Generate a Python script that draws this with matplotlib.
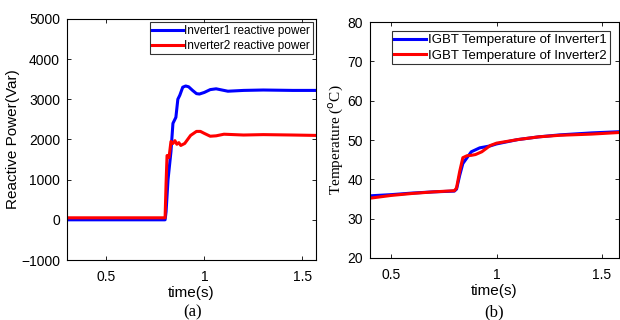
import numpy as np
import matplotlib
matplotlib.use("Agg")
import matplotlib.pyplot as plt

plt.rcParams['font.family'] = ['Liberation Sans', 'DejaVu Sans']

# (a) potencia reactiva
t_q1 = [0.30, 0.80, 0.805, 0.815, 0.83, 0.84, 0.855, 0.865, 0.875, 0.89, 0.905, 0.92,
        0.94, 0.96, 0.975, 1.00, 1.03, 1.06, 1.09, 1.12, 1.20, 1.30, 1.45, 1.57]
q1 = [0, 0, 200, 1000, 1700, 2400, 2550, 3000, 3100, 3300, 3330, 3310,
      3220, 3140, 3130, 3170, 3240, 3260, 3230, 3200, 3220, 3230, 3220, 3220]
t_q2 = [0.30, 0.80, 0.805, 0.81, 0.82, 0.83, 0.84, 0.85, 0.86, 0.87, 0.88, 0.90,
        0.93, 0.96, 0.98, 1.00, 1.03, 1.06, 1.10, 1.20, 1.30, 1.45, 1.57]
q2 = [50, 50, 900, 1600, 1550, 1950, 1900, 1970, 1880, 1920, 1850, 1900,
      2100, 2200, 2200, 2150, 2080, 2090, 2130, 2110, 2120, 2110, 2100]

# (b) temperatura IGBT
t_T1 = [0.40, 0.50, 0.60, 0.70, 0.80, 0.81, 0.825, 0.84, 0.86, 0.88, 0.92, 0.97,
        1.00, 1.10, 1.20, 1.30, 1.45, 1.58]
T1 = [35.8, 36.1, 36.5, 36.8, 37.0, 37.5, 41.0, 44.0, 45.5, 47.0, 48.0, 48.5,
      49.0, 50.1, 50.8, 51.3, 51.8, 52.1]
t_T2 = [0.40, 0.50, 0.60, 0.70, 0.80, 0.81, 0.825, 0.84, 0.86, 0.88, 0.90, 0.93,
        0.97, 1.00, 1.10, 1.20, 1.30, 1.45, 1.58]
T2 = [35.2, 35.9, 36.4, 36.8, 37.1, 37.8, 42.0, 45.5, 46.0, 46.1, 46.3, 47.0,
      48.6, 49.2, 50.1, 50.8, 51.2, 51.5, 51.9]

fig = plt.figure(figsize=(6.2, 3.2), dpi=100)
ax1 = fig.add_axes([0.108, 0.1875, 0.402, 0.7535])
ax2 = fig.add_axes([0.597, 0.194, 0.401, 0.737])

for ax in (ax1, ax2):
    ax.tick_params(direction='in', top=True, right=True, labelsize=10, length=3,
                   width=0.6, pad=5)
    ax.tick_params(axis='x', pad=7)
    for s in ax.spines.values():
        s.set_linewidth(0.8)

ax1.plot(t_q1, q1, color='#0000ff', lw=2.2, label='Inverter1 reactive power')
ax1.plot(t_q2, q2, color='#ff0000', lw=2.2, label='Inverter2 reactive power')
ax1.set_xlim(0.3, 1.57)
ax1.set_ylim(-1000, 5000)
ax1.set_xticks([0.5, 1, 1.5])
ax1.set_xticklabels(['0.5', '1', '1.5'])
ax1.set_yticks(range(-1000, 5001, 1000))
ax1.set_xlabel('time(s)', fontsize=11, labelpad=2)
ax1.set_ylabel('Reactive Power(Var)', fontsize=11, labelpad=1)
leg1 = ax1.legend(loc='upper right', fontsize=8.5, fancybox=False, edgecolor='black',
                  borderpad=0.2, handlelength=2.6, handletextpad=0.15,
                  labelspacing=0.25, borderaxespad=0.3)
leg1.get_frame().set_linewidth(0.8)

ax2.plot(t_T1, T1, color='#0000ff', lw=2.2, label='IGBT Temperature of Inverter1')
ax2.plot(t_T2, T2, color='#ff0000', lw=2.2, label='IGBT Temperature of Inverter2')
ax2.set_xlim(0.4, 1.58)
ax2.set_ylim(20, 80)
ax2.set_xticks([0.5, 1, 1.5])
ax2.set_xticklabels(['0.5', '1', '1.5'])
ax2.set_yticks(range(20, 81, 10))
ax2.set_xlabel('time(s)', fontsize=11, labelpad=2)
ax2.set_ylabel('Temperature ($^{\\mathrm{o}}$C)', fontsize=11, labelpad=2,
               family=['Liberation Serif', 'DejaVu Serif'])
leg2 = ax2.legend(loc='upper right', fontsize=9.5, fancybox=False, edgecolor='black',
                  borderpad=0.2, handlelength=2.4, handletextpad=0.15,
                  labelspacing=0.25, borderaxespad=0.7)
leg2.get_frame().set_linewidth(0.8)

fig.text(0.311, 0.0, '(a)', fontsize=12, ha='center', va='bottom',
         family=['Liberation Serif', 'DejaVu Serif'])
fig.text(0.797, 0.0, '(b)', fontsize=12, ha='center', va='bottom',
         family=['Liberation Serif', 'DejaVu Serif'])

fig.savefig('out.png', dpi=100)
